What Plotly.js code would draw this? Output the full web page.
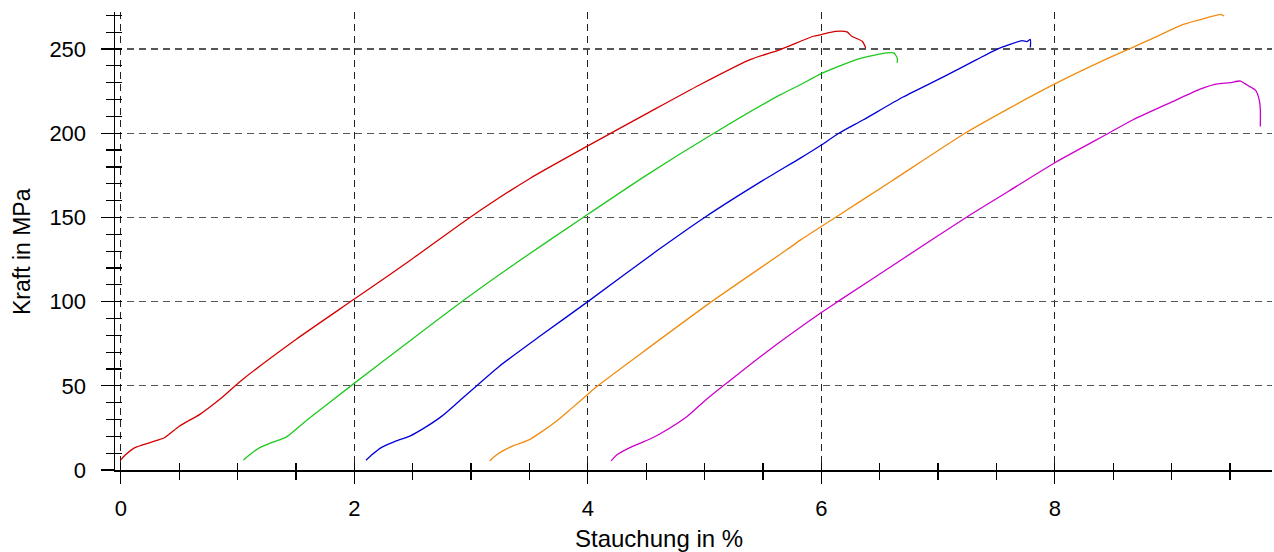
<!DOCTYPE html>
<html>
<head>
<meta charset="utf-8">
<script src="https://cdn.plot.ly/plotly-3.0.1.min.js"></script>
<style>html,body{margin:0;padding:0;background:#fff;}</style>
</head>
<body>
<div id="chart" style="width:1274px;height:552px;"></div>
<script>
// Stauchung in % (x) and Kraft in MPa (y) for five specimens
const redX = [0, 0.04, 0.12, 0.25, 0.377, 0.5, 0.68, 0.85, 1.03, 1.5, 2.0, 2.48, 2.99, 3.5, 4.0, 4.5, 4.96, 5.39, 5.65, 5.93, 6.0, 6.12, 6.22, 6.26, 6.35, 6.38];
const redY = [6, 9, 13.3, 16.3, 19.3, 26, 33.2, 42.1, 53, 77.5, 101.5, 124.6, 150, 173, 192.5, 211.5, 228.8, 243.7, 249.7, 257.6, 258.6, 260.5, 260.2, 257.6, 254.6, 250.7];

const greenX = [1.05, 1.12, 1.19, 1.3, 1.42, 1.6, 1.99, 2.5, 2.96, 3.42, 3.96, 4.5, 5.08, 5.65, 5.82, 6.0, 6.32, 6.56, 6.62, 6.65, 6.65];
const greenY = [6, 10, 13.3, 16.5, 19.7, 30, 51, 78, 102, 124.6, 150, 175, 200, 222.9, 228.8, 235.4, 244.2, 247.7, 247.7, 244.7, 241.8];

const blueX = [2.1, 2.15, 2.23, 2.35, 2.48, 2.6, 2.75, 2.9, 3.24, 3.6, 4.0, 4.6, 5.0, 5.5, 5.82, 6.0, 6.15, 6.36, 6.7, 7.05, 7.33, 7.5, 7.72, 7.76, 7.79, 7.79];
const blueY = [5.8, 9, 13.3, 17, 20.3, 25, 32, 41, 61.5, 80, 100, 130.6, 150, 172, 185.2, 193, 200, 208, 221.5, 233.6, 243.7, 249.7, 255, 254.4, 255.7, 250.9];

const orangeX = [3.16, 3.2, 3.26, 3.35, 3.49, 3.6, 3.73, 3.85, 4.0, 4.085, 4.5, 5.06, 5.7, 5.82, 6.12, 6.6, 7.23, 7.6, 8.0, 8.43, 8.82, 9.1, 9.3, 9.42, 9.45];
const orangeY = [5.4, 8, 10.9, 14, 17.7, 22.5, 29, 36, 45, 50, 71.5, 100, 130.6, 136.5, 150, 171.5, 200, 214.5, 229.3, 243.7, 255.7, 264.6, 268.5, 270.6, 269.6];

const magentaX = [4.2, 4.25, 4.36, 4.56, 4.62, 4.85, 5.0, 5.16, 5.5, 6.0, 6.14, 6.68, 7.24, 7.6, 8.0, 8.46, 8.67, 9.0, 9.25, 9.39, 9.5, 9.59, 9.65, 9.72, 9.75, 9.76, 9.76];
const magentaY = [5.4, 9, 13.3, 19.3, 21.5, 31.8, 41, 50, 68.5, 93.5, 100, 124.6, 150, 165.4, 182.5, 200, 208, 218.5, 226.3, 229.3, 230, 231, 228.5, 225.5, 220, 214, 204];

const seriesColors = ['#d40000', '#1ec81e', '#0000d8', '#f08c10', '#cc00cc'];

const xTitle = 'Stauchung in %';
const yTitle = 'Kraft in MPa';

const allX = [redX, greenX, blueX, orangeX, magentaX];
const allY = [redY, greenY, blueY, orangeY, magentaY];

const traces = allX.map((xs, i) => ({
  x: xs, y: allY[i], type: 'scatter', mode: 'lines',
  line: {color: seriesColors[i], width: 1.3, shape: 'spline', smoothing: 0.6},
  hoverinfo: 'skip', showlegend: false
}));
// empty helper trace so the overlaid tick-only axes get created
traces.push({x: [null], y: [null], xaxis: 'x2', yaxis: 'y2', type: 'scatter', mode: 'lines', showlegend: false, hoverinfo: 'skip'});

const font = {family: 'Liberation Sans, Arial, sans-serif', size: 22, color: '#000'};
const xRange = [-0.05, 9.86];
const yRange = [0, 272];

const layout = {
  width: 1274, height: 552,
  margin: {l: 115, r: 2, t: 12, b: 82},
  paper_bgcolor: '#fff', plot_bgcolor: '#fff',
  font: font,
  showlegend: false,
  xaxis: {
    range: xRange, tick0: 0, dtick: 2,
    showline: true, linecolor: '#000', linewidth: 1.5,
    ticks: 'outside', ticklen: 12, tickwidth: 1.2, tickcolor: '#000',
    minor: {ticks: 'outside', dtick: 0.5, ticklen: 8, tickwidth: 1.2, tickcolor: '#000', showgrid: false},
    showgrid: true, gridcolor: '#222', griddash: '7px,5px', gridwidth: 1.2,
    zeroline: false, ticklabelstandoff: 6,
    tickfont: font
  },
  xaxis2: {
    overlaying: 'x', anchor: 'y2', side: 'bottom', range: xRange, tick0: 0, dtick: 0.5,
    ticks: 'inside', ticklen: 7, tickwidth: 1.2, tickcolor: '#000',
    showticklabels: false, showgrid: false, showline: false, zeroline: false
  },
  yaxis: {
    range: yRange, tick0: 0, dtick: 50,
    showline: true, linecolor: '#000', linewidth: 1.5,
    ticks: 'outside', ticklen: 13, tickwidth: 1.2, tickcolor: '#000',
    minor: {ticks: 'outside', dtick: 10, ticklen: 8, tickwidth: 1.2, tickcolor: '#000', showgrid: false},
    showgrid: true, gridcolor: '#555', griddash: '7px,5px', gridwidth: 1.2,
    zeroline: false, ticklabelstandoff: 10,
    tickfont: font
  },
  yaxis2: {
    overlaying: 'y', anchor: 'x2', side: 'left', range: yRange, tick0: 0, dtick: 10,
    ticks: 'inside', ticklen: 7, tickwidth: 1.2, tickcolor: '#000',
    showticklabels: false, showgrid: false, showline: false, zeroline: false
  },
  annotations: [
    {text: xTitle, xref: 'paper', yref: 'paper', x: 0.4702, y: -0.1485, xanchor: 'center', yanchor: 'middle',
     showarrow: false, font: {family: font.family, size: 24, color: '#000'}},
    {text: yTitle, xref: 'paper', yref: 'paper', x: -0.0804, y: 0.478, xanchor: 'center', yanchor: 'middle',
     textangle: -90, showarrow: false, font: {family: font.family, size: 23, color: '#000'}}
  ]
};

Plotly.newPlot('chart', traces, layout, {staticPlot: true, displayModeBar: false});
</script>
</body>
</html>
